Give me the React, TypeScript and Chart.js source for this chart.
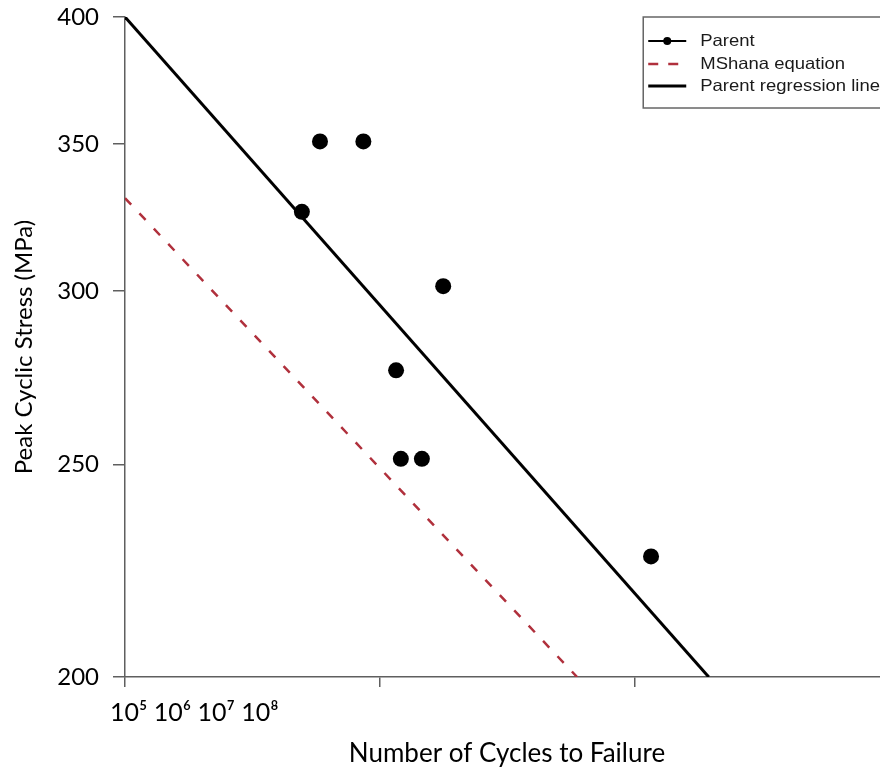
import React, { useEffect, useRef } from 'react';
import { Chart, registerables } from 'chart.js';

Chart.register(...registerables);

// ---- data ----
const parentCycles = [4.95e5, 5.83e5, 8.63e5, 1.776e6, 1.16e6, 1.211e6, 1.465e6, 1.163e7];
const parentStress = [326, 351, 351, 301.5, 276, 251.5, 251.5, 227];
const mshanaCycles = [1e5, 5.96e6];
const mshanaStress = [330.7, 200];
const regressionCycles = [1e5, 1.96e7];
const regressionStress = [400, 200];
const xTickValues = [1e5, 1e6, 1e7, 1e8];
const xTickLabels = ['10⁵', '10⁶', '10⁷', '10⁸'];
const yTickValues = [200, 250, 300, 350, 400];
const yTickLabels = ['200', '250', '300', '350', '400'];
const legendLabels = ['Parent', 'MShana equation', 'Parent regression line'];
const xTitle = 'Number of Cycles to Failure';
const yTitle = 'Peak Cyclic Stress (MPa)';

const AXIS_COLOR = '#5f5f5f';
const RED = '#b0303c';

const rLegendPlugin = {
  id: 'rLegend',
  afterDraw(chart: any) {
    const { ctx, chartArea } = chart;
    const fontSize = 16.5;
    const sx = 1.12;
    ctx.save();
    ctx.font = `${fontSize}px "Liberation Sans", Arial, sans-serif`;
    const labels: string[] = chart.data.datasets.map((d: any) => d.label);
    const maxW = Math.max(...labels.map((l) => ctx.measureText(l).width)) * sx;
    const textX = 57;
    const w = textX + maxW + 9;
    const h = 91;
    const left = chartArea.right - w;
    const top = chartArea.top;
    ctx.fillStyle = '#fff';
    ctx.fillRect(left, top, w, h);
    ctx.strokeStyle = '#666';
    ctx.lineWidth = 1.5;
    ctx.strokeRect(left, top, w, h);
    const rows = [top + 24, top + 47, top + 69];
    const x0 = left + 5;
    const x1 = left + 43;
    // Parent: line + point
    ctx.strokeStyle = '#000';
    ctx.lineWidth = 2;
    ctx.beginPath();
    ctx.moveTo(x0, rows[0]);
    ctx.lineTo(x1, rows[0]);
    ctx.stroke();
    ctx.fillStyle = '#000';
    ctx.beginPath();
    ctx.arc((x0 + x1) / 2, rows[0], 4, 0, Math.PI * 2);
    ctx.fill();
    // MShana dashed
    ctx.strokeStyle = RED;
    ctx.lineWidth = 2.5;
    ctx.setLineDash([10, 10]);
    ctx.beginPath();
    ctx.moveTo(x0, rows[1]);
    ctx.lineTo(x1, rows[1]);
    ctx.stroke();
    ctx.setLineDash([]);
    // regression
    ctx.strokeStyle = '#000';
    ctx.lineWidth = 3;
    ctx.beginPath();
    ctx.moveTo(x0, rows[2]);
    ctx.lineTo(x1, rows[2]);
    ctx.stroke();
    // texts
    ctx.fillStyle = '#1a1a1a';
    ctx.textBaseline = 'middle';
    ctx.textAlign = 'left';
    labels.forEach((l, i) => {
      ctx.save();
      ctx.translate(left + textX, rows[i]);
      ctx.scale(sx, 1);
      ctx.fillText(l, 0, 0);
      ctx.restore();
    });
    ctx.restore();
  },
};

export default function App() {
  const canvasRef = useRef<HTMLCanvasElement | null>(null);

  useEffect(() => {
    if (!canvasRef.current) return;
    const tickFont = { family: 'Lato, "Open Sans", sans-serif', size: 24 };
    const chart = new Chart(canvasRef.current, {
      type: 'scatter',
      data: {
        datasets: [
          {
            label: legendLabels[0],
            data: parentCycles.map((x, i) => ({ x, y: parentStress[i] })),
            pointRadius: 8,
            pointHoverRadius: 8,
            backgroundColor: '#000',
            borderColor: '#000',
            borderWidth: 0,
            showLine: false,
          },
          {
            label: legendLabels[1],
            data: mshanaCycles.map((x, i) => ({ x, y: mshanaStress[i] })),
            showLine: true,
            borderColor: RED,
            borderWidth: 2.5,
            borderDash: [9, 12],
            pointRadius: 0,
            fill: false,
          },
          {
            label: legendLabels[2],
            data: regressionCycles.map((x, i) => ({ x, y: regressionStress[i] })),
            showLine: true,
            borderColor: '#000',
            borderWidth: 3,
            pointRadius: 0,
            fill: false,
          },
        ],
      },
      options: {
        animation: false,
        responsive: false,
        events: [],
        layout: { padding: { top: 17, right: 111, left: 0, bottom: 0 } },
        plugins: { legend: { display: false }, tooltip: { enabled: false } },
        scales: {
          x: {
            type: 'logarithmic',
            min: xTickValues[0],
            max: xTickValues[xTickValues.length - 1],
            afterFit: (s: any) => {
              s.height = 94;
              s.paddingLeft = 0;
              s.paddingRight = 0;
            },
            afterBuildTicks: (s: any) => {
              s.ticks = xTickValues.map((v) => ({ value: v }));
            },
            ticks: {
              autoSkip: false,
              maxRotation: 0,
              minRotation: 0,
              align: 'start',
              labelOffset: -15,
              padding: 11,
              color: '#000',
              font: { family: 'Lato, "Open Sans", sans-serif', size: 25 },
              callback: (_v: any, i: number) => (i === 0 ? xTickLabels.join(' ') : ''),
            },
            grid: {
              drawOnChartArea: false,
              drawTicks: true,
              tickLength: 10,
              color: AXIS_COLOR,
              lineWidth: 1.5,
            },
            border: { display: true, color: AXIS_COLOR, width: 1.5 },
            title: {
              display: true,
              text: xTitle,
              color: '#000',
              font: { family: 'Lato, "Open Sans", sans-serif', size: 26 },
              padding: { top: 0, bottom: 2 },
            },
          },
          y: {
            type: 'logarithmic',
            min: yTickValues[0],
            max: yTickValues[yTickValues.length - 1],
            afterFit: (s: any) => {
              s.width = 125;
              s.paddingTop = 0;
              s.paddingBottom = 0;
            },
            afterBuildTicks: (s: any) => {
              s.ticks = yTickValues.map((v) => ({ value: v }));
            },
            ticks: {
              autoSkip: false,
              padding: 14,
              color: '#000',
              font: tickFont,
              callback: (_v: any, i: number) => yTickLabels[i],
            },
            grid: {
              drawOnChartArea: false,
              drawTicks: true,
              tickLength: 12,
              color: AXIS_COLOR,
              lineWidth: 1.5,
            },
            border: { display: true, color: AXIS_COLOR, width: 1.5 },
            title: {
              display: true,
              text: yTitle,
              color: '#000',
              font: { family: 'Lato, "Open Sans", sans-serif', size: 24 },
              padding: { top: 10, bottom: 0 },
            },
          },
        },
      } as any,
      plugins: [rLegendPlugin],
    });
    return () => chart.destroy();
  }, []);

  return (
    <div
      style={{
        position: 'fixed',
        left: 0,
        top: 0,
        width: 880,
        height: 771,
        overflow: 'hidden',
        background: '#fff',
      }}
    >
      <canvas ref={canvasRef} width={1000} height={771} style={{ display: 'block' }} />
    </div>
  );
}
